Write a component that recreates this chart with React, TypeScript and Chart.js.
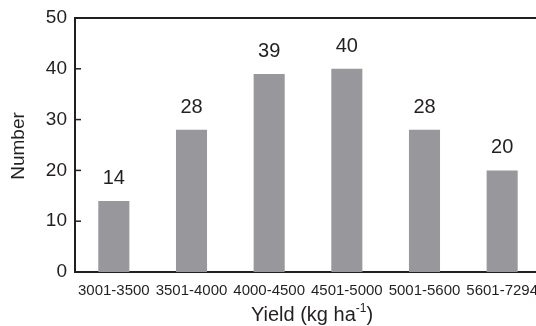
import React, { useEffect, useRef } from "react";
import { Chart, registerables } from "chart.js";

Chart.register(...registerables);

const categories = ["3001-3500", "3501-4000", "4000-4500", "4501-5000", "5001-5600", "5601-7294"];
const counts = [14, 28, 39, 40, 28, 20];
const yTicks = [0, 10, 20, 30, 40, 50];
const xTitleMain = "Yield (kg ha";
const xTitleSup = "-1";
const xTitleEnd = ")";
const yTitle = "Number";

const FONT = '"Liberation Sans", Arial, Helvetica, sans-serif';
const INK = "#231f20";
const BAR = "#98989c";

export default function App() {
  const ref = useRef<HTMLCanvasElement>(null);

  useEffect(() => {
    document.body.style.margin = "0";
    const canvas = ref.current!;
    const decor = {
      id: "decor",
      afterDatasetsDraw(chart: any) {
        const ctx = chart.ctx as CanvasRenderingContext2D;
        const area = chart.chartArea;
        const y = chart.scales.y;
        ctx.save();
        // top border
        ctx.strokeStyle = INK;
        ctx.lineWidth = 2;
        ctx.beginPath();
        ctx.moveTo(area.left - 1, area.top);
        ctx.lineTo(area.right, area.top);
        ctx.stroke();
        // inner ticks
        ctx.lineWidth = 1.5;
        yTicks.forEach((v) => {
          const py = y.getPixelForValue(v);
          ctx.beginPath();
          ctx.moveTo(area.left, py);
          ctx.lineTo(area.left + 6, py);
          ctx.stroke();
        });
        // value labels
        const meta = chart.getDatasetMeta(0);
        ctx.fillStyle = INK;
        ctx.font = `20px ${FONT}`;
        ctx.textAlign = "center";
        ctx.textBaseline = "alphabetic";
        meta.data.forEach((el: any, i: number) => {
          ctx.fillText(String(counts[i]), el.x, el.y - 17);
        });
        // x title with superscript
        const mainFont = `20px ${FONT}`;
        const supFont = `12px ${FONT}`;
        ctx.font = mainFont;
        const w1 = ctx.measureText(xTitleMain).width;
        const w3 = ctx.measureText(xTitleEnd).width;
        ctx.font = supFont;
        const w2 = ctx.measureText(xTitleSup).width;
        const total = w1 + w2 + w3;
        const cx = (area.left + area.right) / 2 + 4;
        let x0 = cx - total / 2;
        const base = 321;
        ctx.textAlign = "left";
        ctx.font = mainFont;
        ctx.fillText(xTitleMain, x0, base);
        x0 += w1;
        ctx.font = supFont;
        ctx.fillText(xTitleSup, x0, base - 9);
        x0 += w2;
        ctx.font = mainFont;
        ctx.fillText(xTitleEnd, x0, base);
        // y title
        ctx.translate(19, (area.top + area.bottom) / 2 + 1);
        ctx.rotate(-Math.PI / 2);
        ctx.textAlign = "center";
        ctx.textBaseline = "middle";
        ctx.font = `19px ${FONT}`;
        ctx.fillText(yTitle, 0, 0);
        ctx.restore();
      },
    };

    const chart = new Chart(canvas, {
      type: "bar",
      data: {
        labels: categories,
        datasets: [
          {
            data: counts,
            backgroundColor: BAR,
            borderWidth: 0,
            barPercentage: 0.4,
            categoryPercentage: 1,
          },
        ],
      },
      options: {
        responsive: false,
        animation: false,
        devicePixelRatio: 1,
        layout: { padding: { top: 18, left: 0, right: 0, bottom: 0 } },
        plugins: { legend: { display: false }, tooltip: { enabled: false } },
        scales: {
          x: {
            grid: { display: false, drawTicks: false },
            border: { display: true, color: INK, width: 2 },
            ticks: {
              color: INK,
              font: { family: FONT, size: 15 },
              padding: 10,
              maxRotation: 0,
              autoSkip: false,
            },
            afterFit: (s: any) => {
              s.height = 54;
              s.paddingLeft = 0;
              s.paddingRight = 0;
            },
          },
          y: {
            min: 0,
            max: 50,
            grid: { display: false, drawTicks: false },
            border: { display: true, color: INK, width: 2 },
            ticks: {
              stepSize: 10,
              color: INK,
              font: { family: FONT, size: 19 },
              padding: 8,
            },
            afterFit: (s: any) => {
              s.width = 75;
              s.paddingTop = 0;
              s.paddingBottom = 0;
            },
          },
        },
      },
      plugins: [decor],
    } as any);
    return () => chart.destroy();
  }, []);

  return (
    <div style={{ position: "relative", width: 536, height: 326, overflow: "hidden", background: "#fff" }}>
      <canvas ref={ref} width={541} height={326} style={{ display: "block" }} />
    </div>
  );
}
